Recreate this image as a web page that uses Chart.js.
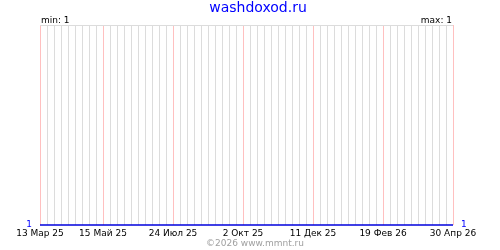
<!DOCTYPE html>
<html>
<head>
<meta charset="utf-8">
<script src="https://cdn.jsdelivr.net/npm/chart.js@4"></script>
<style>
  html, body { margin: 0; padding: 0; background: #fff; }
  #wrap { width: 500px; height: 250px; }
</style>
</head>
<body>
<div id="wrap"><canvas id="chart" width="500" height="250"></canvas></div>
<script>
const siteTitle = "washdoxod.ru";
const footerText = "©2026 www.mmnt.ru";

// days from 13 Mar 25, one point per week
const weekDays = [0, 7, 14, 21, 28, 35, 42, 49, 56, 63, 70, 77, 84, 91, 98, 105, 112, 119, 126, 133,
  140, 147, 154, 161, 168, 175, 182, 189, 196, 203, 210, 217, 224, 231, 238, 245, 252, 259, 266, 273,
  280, 287, 294, 301, 308, 315, 322, 329, 336, 343, 350, 357, 364, 371, 378, 385, 392, 399, 406, 413];
const values = [1, 1, 1, 1, 1, 1, 1, 1, 1, 1, 1, 1, 1, 1, 1, 1, 1, 1, 1, 1,
  1, 1, 1, 1, 1, 1, 1, 1, 1, 1, 1, 1, 1, 1, 1, 1, 1, 1, 1, 1,
  1, 1, 1, 1, 1, 1, 1, 1, 1, 1, 1, 1, 1, 1, 1, 1, 1, 1, 1, 1];

const labelDays = [0, 63, 133, 203, 273, 343, 413];
const tickLabels = ["13 Мар 25", "15 Май 25", "24 Июл 25", "2 Окт 25", "11 Дек 25", "19 Фев 26", "30 Апр 26"];

const minVal = Math.min(...values);
const maxVal = Math.max(...values);

const font9 = { family: "DejaVu Sans", size: 9 };

const yAxis = (pos) => ({
  position: pos,
  min: minVal,
  max: minVal + 1,
  border: { display: false },
  grid: {
    drawTicks: false,
    color: (c) => c.tick && c.tick.value === minVal ? 'rgba(0,0,0,0)' : '#dcdcdc',
    drawOnChartArea: pos === 'left'
  },
  ticks: {
    stepSize: 1,
    color: '#0000ff',
    font: font9,
    padding: 8,
    callback: (v) => v === minVal ? String(v) : ''
  },
  afterFit: (s) => { s.width = pos === 'left' ? 40 : 47; }
});

const textPlugin = {
  id: 'texts',
  afterDraw(chart) {
    const ctx = chart.ctx;
    const a = chart.chartArea;
    ctx.save();
    ctx.textBaseline = 'alphabetic';
    ctx.fillStyle = '#0000ff';
    ctx.font = '14px "DejaVu Sans"';
    ctx.textAlign = 'center';
    ctx.fillText(siteTitle, 258, 12);
    ctx.fillStyle = '#000';
    ctx.font = '9px "DejaVu Sans"';
    ctx.textAlign = 'left';
    ctx.fillText('min: ' + minVal, a.left + 1, 23);
    ctx.textAlign = 'right';
    ctx.fillText('max: ' + maxVal, a.right - 1, 23);
    ctx.fillStyle = '#a0a0a0';
    ctx.textAlign = 'center';
    ctx.fillText(footerText, 255, 246);
    ctx.restore();
  }
};

new Chart(document.getElementById('chart'), {
  type: 'line',
  data: {
    datasets: [{
      data: weekDays.map((d, i) => ({ x: d, y: values[i] })),
      borderColor: '#0000dd',
      borderWidth: 1.5,
      pointRadius: 0,
      tension: 0,
      clip: false
    }]
  },
  options: {
    responsive: false,
    animation: false,
    events: [],
    layout: { padding: { top: 25, left: 0, right: 0, bottom: 0 } },
    plugins: { legend: { display: false }, tooltip: { enabled: false } },
    scales: {
      x: {
        type: 'linear',
        min: weekDays[0],
        max: weekDays[weekDays.length - 1],
        border: { display: false },
        afterBuildTicks: (s) => { s.ticks = weekDays.map(v => ({ value: v })); },
        grid: {
          drawTicks: false,
          color: (c) => labelDays.includes(c.tick.value) ? '#ffc0c0' : '#dcdcdc'
        },
        ticks: {
          autoSkip: false,
          maxRotation: 0,
          color: '#000',
          font: font9,
          padding: 3,
          callback: (v) => {
            const i = labelDays.indexOf(v);
            return i >= 0 ? tickLabels[i] : '';
          }
        },
        afterFit: (s) => { s.height = 25; }
      },
      y: yAxis('left'),
      y2: yAxis('right')
    }
  },
  plugins: [textPlugin]
});
</script>
</body>
</html>
